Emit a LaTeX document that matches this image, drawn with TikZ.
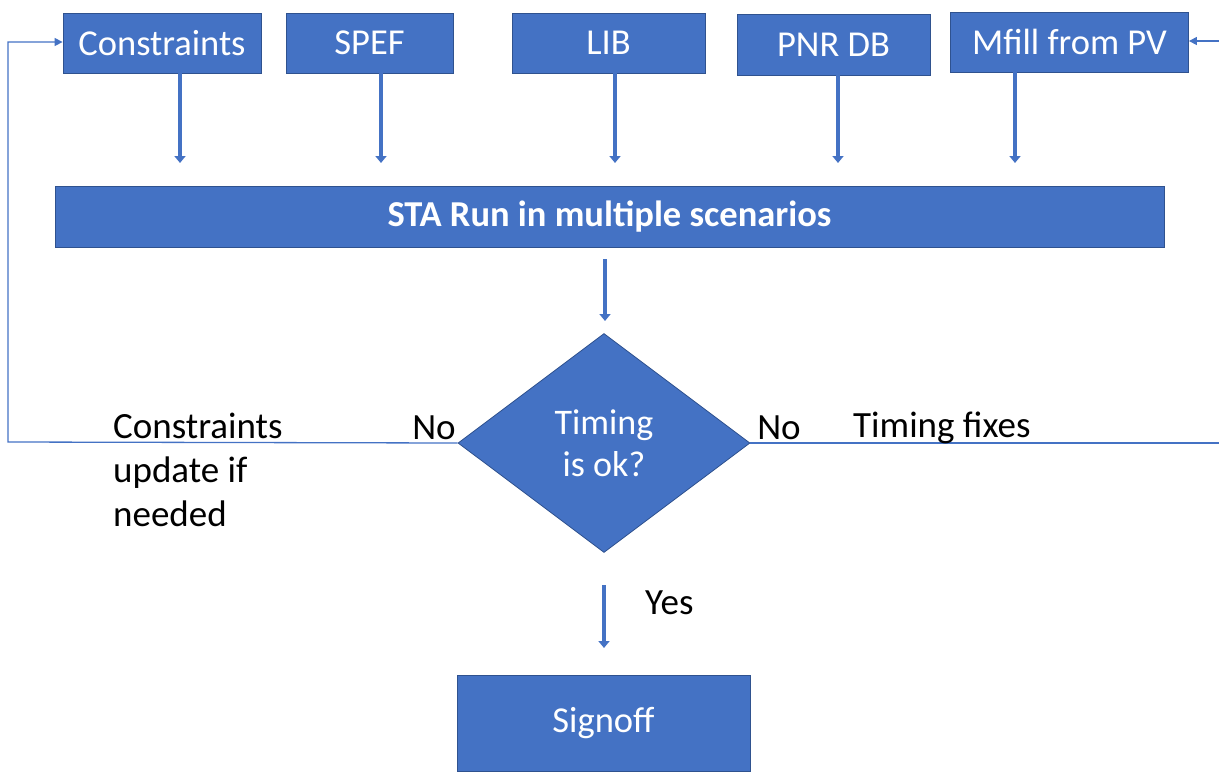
\documentclass[tikz,border=0pt]{standalone}
\usepackage{fontspec}
\setmainfont{Carlito}
\usetikzlibrary{shapes.geometric,arrows.meta}
\definecolor{obl}{HTML}{4472C4}
\definecolor{obd}{HTML}{2F528F}
\begin{document}
\begin{tikzpicture}[x=1pt,y=-1pt,
  box/.style={draw=obd,line width=0.8pt,fill=obl,text=white,inner sep=0pt,
    font=\fontsize{36.5}{42}\selectfont},
  bigarrow/.style={draw=obl,line width=4.5pt,-{Triangle[width=11pt,length=7pt]}},
  thinline/.style={draw=obl,line width=1.3pt},
  thinarrow/.style={thinline,-{Triangle[width=8pt,length=8pt]}},
  lbl/.style={font=\fontsize{37}{44}\selectfont,text=black,inner sep=0pt}]
\useasboundingbox (0,0) rectangle (1219,772);
% top boxes
\node[box,minimum width=198pt,minimum height=60pt] (cons) at (162,43) {Constraints};
\node[box,minimum width=167pt,minimum height=60pt] (spef) at (369.5,43) {SPEF};
\node[box,minimum width=193pt,minimum height=60pt] (lib) at (608.5,43) {LIB};
\node[box,minimum width=193pt,minimum height=61pt] (pnr) at (833.5,44.5) {PNR DB};
\node[box,minimum width=238pt,minimum height=60pt] (mfill) at (1069.5,42) {Mfill from PV};
% STA
\node[box,minimum width=1109pt,minimum height=61pt,font=\fontsize{36.5}{42}\selectfont\bfseries] (sta) at (609.5,216.5) {STA Run in multiple scenarios};
% diamond
\node[box,diamond,minimum width=292pt,minimum height=219pt,align=center,
  font=\fontsize{36}{42}\selectfont] (dia) at (604,443) {Timing\\is ok?};
% signoff
\node[box,minimum width=293pt,minimum height=96pt] (sign) at (603.5,723) {Signoff};
% arrow end coordinates
\coordinate (a1) at (180,163);
\coordinate (a2) at (381,163);
\coordinate (a3) at (615,163);
\coordinate (a4) at (838,163);
\coordinate (a5) at (1015,163);
\draw[bigarrow] (cons.south -| a1) -- (a1);
\draw[bigarrow] (spef.south -| a2) -- (a2);
\draw[bigarrow] (lib.south -| a3) -- (a3);
\draw[bigarrow] (pnr.south -| a4) -- (a4);
\draw[bigarrow] (mfill.south -| a5) -- (a5);
% STA to diamond
\coordinate (s1) at (605,259);
\coordinate (s2) at (605,321);
\draw[bigarrow] (s1) -- (s2);
% yes arrow
\coordinate (y1) at (604,585);
\coordinate (y2) at (604,648);
\draw[bigarrow] (y1) -- (y2);
% feedback left
\coordinate (fl) at (8,442);
\coordinate (flt) at (8,42);
\draw[thinarrow] (dia.west) -- (fl) -- (flt) -- (flt -| cons.west);
% right
\coordinate (fr) at (1219,443);
\coordinate (frt) at (1219,41);
\draw[thinline] (dia.east) -- (fr);
\draw[thinarrow] (frt) -- (frt -| mfill.east);
% labels
\node[lbl] (nol) at (434,428) {No};
\node[lbl] (nor) at (779,428) {No};
\node[lbl,anchor=west] (tfix) at (853,428) {Timing fixes};
\node[lbl,anchor=north west,align=left] (cupd) at (113,413) {Constraints\\update if\\needed};
\node[lbl,anchor=west] (yes) at (645,603) {Yes};
\end{tikzpicture}
\end{document}
